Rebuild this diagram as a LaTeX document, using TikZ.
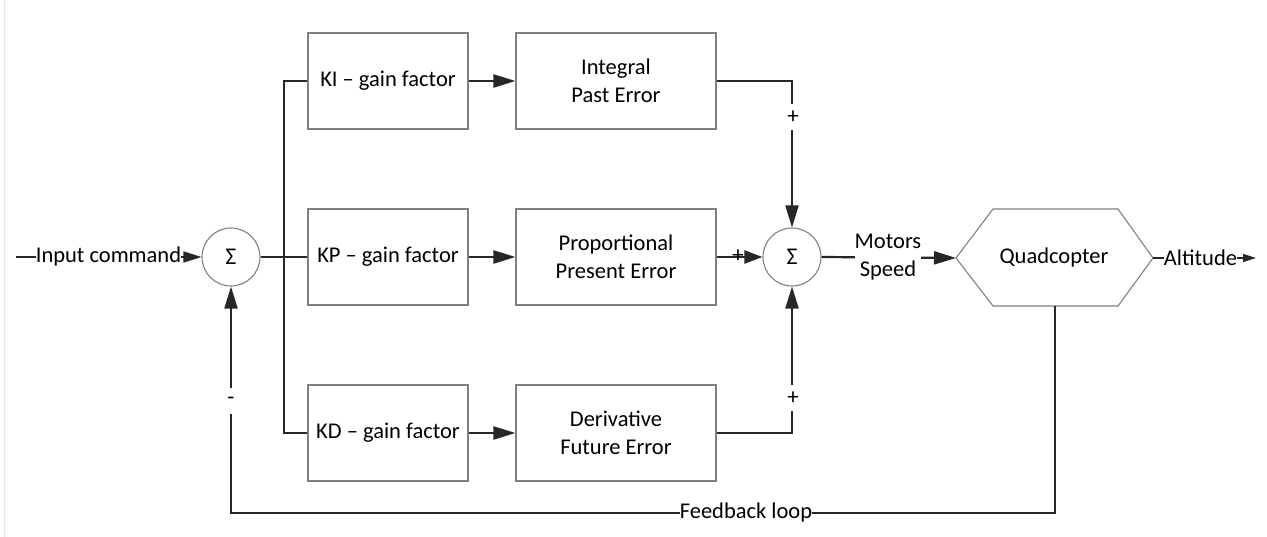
\documentclass[tikz,border=0pt]{standalone}
\usepackage{fontspec}
\setmainfont{Carlito}
\usetikzlibrary{arrows.meta}
\definecolor{linecol}{HTML}{262626}
\definecolor{edgecol}{HTML}{808080}
\definecolor{pagecol}{HTML}{E6E6E6}
\begin{document}
\begin{tikzpicture}[x=1pt,y=-1pt,
  font=\fontsize{22.5}{27.5}\selectfont,
  blockbox/.style={draw=edgecol, line width=1.1pt, minimum height=96pt,
    inner sep=0pt, align=center},
  gainbox/.style={blockbox, minimum width=160pt},
  termbox/.style={blockbox, minimum width=200pt},
  sumnode/.style={circle, draw=edgecol, line width=1.1pt, minimum size=58pt,
    inner sep=0pt, font=\fontsize{24}{28}\selectfont},
  conn/.style={draw=linecol, line width=2.2pt},
  thin conn/.style={draw=linecol, line width=1.5pt},
  arr/.style={-{Triangle[length=22pt,width=13pt]}},
  small arr/.style={-{Triangle[length=18pt,width=11pt]}},
  tiny arr/.style={-{Triangle[length=13pt,width=8pt]}},
  lbl/.style={fill=white, inner sep=0pt, align=center},
  signfont/.style={font=\fontsize{23}{26}\selectfont},
  sign/.style={signfont, fill=white, inner xsep=2pt, minimum height=26pt}
]
\useasboundingbox (0,0) rectangle (1267,537);
% faint page edge
\draw[pagecol, line width=0.8pt] (4,0) -- (4,537);

% summing junctions
\node[sumnode] (sum1) at (231,257) {Σ};
\node[sumnode] (sum2) at (792,257) {Σ};

% gain blocks and PID terms
\node[gainbox] (ki) at (388,81)  {KI – gain factor};
\node[gainbox] (kp) at (388,257) {KP – gain factor};
\node[gainbox] (kd) at (388,433) {KD – gain factor};
\node[termbox] (ti) at (616,81)  {Integral\\Past Error};
\node[termbox] (tp) at (616,257) {Proportional\\Present Error};
\node[termbox] (td) at (616,433) {Derivative\\Future Error};

% plant (hexagon)
\coordinate (hexW)  at (956,258);
\coordinate (hexNW) at (993,209);
\coordinate (hexNE) at (1118,209);
\coordinate (hexE)  at (1153,258);
\coordinate (hexSE) at (1118,306);
\coordinate (hexSW) at (993,306);
\coordinate (hexS)  at (1055,306);
\draw[edgecol, line width=1.1pt] (hexW) -- (hexNW) -- (hexNE) -- (hexE)
  -- (hexSE) -- (hexSW) -- cycle;
\node (quad) at (1054,258) {Quadcopter};

% input
\coordinate (in) at (16,257);
\draw[thin conn, small arr] (in) -- (sum1.west);
\node[lbl] (inlbl) at (108.5,257) {Input command};

% distribution bus
\coordinate (bus) at (284,257);
\draw[conn] (sum1.east) -- (kp.west);
\draw[conn] (ki.west) -| (bus) |- (kd.west);

% gain -> term
\draw[conn, arr] (ki.east) -- (ti.west);
\draw[conn, arr] (kp.east) -- (tp.west);
\draw[conn, arr] (kd.east) -- (td.west);

% terms -> second summing junction
\draw[conn, arr] (ti.east) -| (sum2.north);
\draw[conn, -{Triangle[length=18pt,width=13pt]}] (tp.east) -- (sum2.west);
\draw[conn, arr] (td.east) -| (sum2.south);
\node[sign] (s1) at (793,117) {+};
\node[signfont, inner sep=0pt] (s2) at (738,256) {+};
\node[sign] (s3) at (793,398) {+};

% controller output -> plant
\draw[conn, arr] (sum2.east) -- (hexW);
\node[lbl] (ms) at (888,257) {Motors\\Speed};

% output
\coordinate (out) at (1256,258);
\draw[thin conn, tiny arr] (hexE) -- (out);
\node[lbl] (alt) at (1200.5,258) {Altitude};

% feedback
\coordinate (fb) at (746,513);
\draw[conn, arr] (hexS) |- (fb) -| (sum1.south);
\node[lbl] (fblbl) at (fb) {Feedback loop};
\node[sign] (neg) at (231,401) {-};
\end{tikzpicture}
\end{document}
